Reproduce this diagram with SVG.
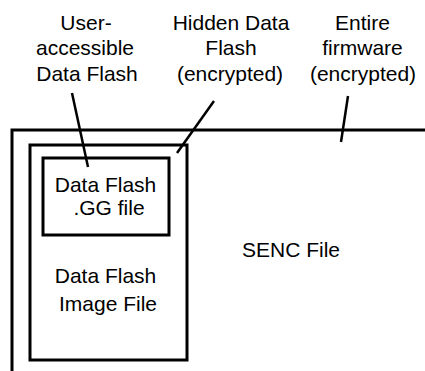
<svg xmlns="http://www.w3.org/2000/svg" width="425" height="371" viewBox="0 0 425 371">
<style>
.box{fill:none;stroke:#000;stroke-width:3}
.lead{fill:none;stroke:#000;stroke-width:2.5}
text{font-family:"Liberation Sans",Arial,sans-serif;font-size:21px;fill:#000;text-anchor:middle}
</style>
<rect width="425" height="371" fill="#fff"/>
<g id="senc">
<path class="box" d="M12,371 V130 H425"/>
<text x="291" y="257">SENC File</text>
</g>
<g id="image-file">
<rect class="box" x="30" y="145" width="157" height="215"/>
<text x="105.5" y="283">Data Flash</text>
<text x="108" y="310.5">Image File</text>
</g>
<g id="gg-file">
<rect class="box" x="43" y="158" width="126" height="77"/>
<text x="105.5" y="191.5">Data Flash</text>
<text x="109" y="215">.GG file</text>
</g>
<g id="label-user">
<text x="86" y="29.5">User-</text>
<text x="85" y="55">accessible</text>
<text x="87" y="80.5">Data Flash</text>
</g>
<g id="label-hidden">
<text x="231" y="29.5">Hidden Data</text>
<text x="231" y="55">Flash</text>
<text x="230" y="80.5">(encrypted)</text>
</g>
<g id="label-firmware">
<text x="362.5" y="29.5">Entire</text>
<text x="362.5" y="55">firmware</text>
<text x="363" y="80.5">(encrypted)</text>
</g>
<g id="connectors">
<line class="lead" x1="72" y1="93" x2="88" y2="167"/>
<line class="lead" x1="214" y1="101" x2="177" y2="153"/>
<line class="lead" x1="348" y1="96" x2="341" y2="142"/>
</g>
</svg>
